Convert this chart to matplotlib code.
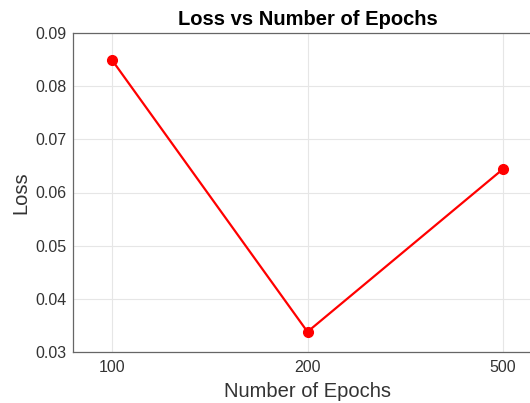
import matplotlib
matplotlib.use("Agg")
import matplotlib.pyplot as plt

epochs = ["100", "200", "500"]
losses = [0.0849, 0.0338, 0.0644]

plt.rcParams["font.family"] = ["Liberation Sans", "DejaVu Sans"]

fig = plt.figure(figsize=(5.3, 4.03), dpi=100)
ax = fig.add_axes([73 / 530, 51 / 403, 469 / 530, 319 / 403])

ax.plot(range(len(epochs)), losses, color="red", lw=1.6, marker="o", markersize=7)
ax.set_xticks(range(len(epochs)))
ax.set_xticklabels(epochs)
ax.set_xlim(-0.2, 2.2)
ax.set_ylim(0.03, 0.09)
ax.set_yticks([0.03, 0.04, 0.05, 0.06, 0.07, 0.08, 0.09])

ax.grid(True, color="#e6e6e6", lw=0.8)
ax.set_axisbelow(True)
ax.tick_params(length=0, labelsize=11.5, colors="#333333", pad=4.5)
ax.tick_params(axis="x", pad=6)
for side in ["left", "bottom", "top", "right"]:
    ax.spines[side].set_color("#666666")
    ax.spines[side].set_linewidth(0.9)

ax.set_title("Loss vs Number of Epochs", fontsize=14.5, fontweight="bold", pad=6)
ax.set_xlabel("Number of Epochs", fontsize=14.5, color="#333333", labelpad=5)
ax.set_ylabel("Loss", fontsize=14.5, color="#333333", labelpad=4)

fig.savefig("out.png", dpi=100)
